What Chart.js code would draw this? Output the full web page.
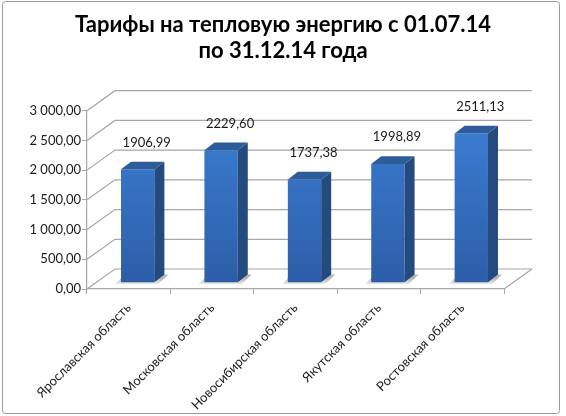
<!DOCTYPE html>
<html>
<head>
<meta charset="utf-8">
<script src="https://cdn.jsdelivr.net/npm/chart.js@4"></script>
<style>
  html, body { margin: 0; padding: 0; background: #fff; }
  #wrap { width: 566px; height: 416px; }
</style>
</head>
<body>
<div id="wrap"><canvas id="grafico" width="566" height="416"></canvas></div>
<script>
// Данные
const regioni = ["Ярославская область", "Московская область", "Новосибирская область", "Якутская область", "Ростовская область"];
const tarifi = [1906.99, 2229.60, 1737.38, 1998.89, 2511.13];
const titolo = ["Тарифы на тепловую энергию с 01.07.14", "по 31.12.14 года"];
const yMin = 0, yMax = 3000, yPasso = 500;

// глубина 3D
const PARETE = {dx: 28, dy: -20};
const SPOSTA = {dx: 9, dy: -6.3};
const PROF = {dx: 10, dy: -7.6};
const GRIGIO = "#a6a6a6";

function formato(v) {
  const [i, d] = v.toFixed(2).split(".");
  return i.replace(/\B(?=(\d{3})+(?!\d))/g, " ") + "," + d;
}

// рамка, заголовок, стены и сетка
const sfondo3d = {
  id: "sfondo3d",
  beforeDraw(chart) {
    const c = chart.ctx;
    c.save();
    c.strokeStyle = "#9a9a9a";
    c.lineWidth = 1;
    c.beginPath();
    c.roundRect(2.5, 1.5, 557, 412, 3);
    c.stroke();
    // заголовок
    c.fillStyle = "#000";
    c.font = "bold 22px Lato";
    c.textAlign = "center";
    c.textBaseline = "alphabetic";
    c.fillText(titolo[0], 283, 32);
    c.fillText(titolo[1], 283, 58);
    c.restore();
  },
  beforeDatasetsDraw(chart) {
    const c = chart.ctx, a = chart.chartArea, y = chart.scales.y;
    c.save();
    c.strokeStyle = GRIGIO;
    c.lineWidth = 1.2;
    y.ticks.forEach(t => {
      const py = y.getPixelForValue(t.value);
      c.beginPath();
      c.moveTo(a.left, py);
      c.lineTo(a.left + PARETE.dx, py + PARETE.dy);
      c.lineTo(a.right + PARETE.dx, py + PARETE.dy);
      c.stroke();
    });
    c.beginPath();
    c.moveTo(a.right, a.bottom);
    c.lineTo(a.right + PARETE.dx, a.bottom + PARETE.dy);
    c.stroke();
    // тени на полу
    chart.getDatasetMeta(0).data.forEach(b => {
      const x0 = b.x - b.width / 2 + SPOSTA.dx;
      const yb = b.base + SPOSTA.dy;
      const g = c.createLinearGradient(0, yb - 4, 0, yb + 4);
      g.addColorStop(0, "rgba(120,120,120,0.55)");
      g.addColorStop(1, "rgba(120,120,120,0)");
      c.fillStyle = g;
      c.beginPath();
      c.moveTo(x0 - 6, yb + 2);
      c.lineTo(x0 + b.width + 4, yb + 2);
      c.lineTo(x0 + b.width + PROF.dx + 4, yb + PROF.dy);
      c.lineTo(x0 - 6 + PROF.dx, yb + PROF.dy);
      c.closePath();
      c.fill();
    });
    c.restore();
    c.save();
    c.translate(SPOSTA.dx, SPOSTA.dy);
  },
  afterDatasetsDraw(chart) {
    const c = chart.ctx;
    const meta = chart.getDatasetMeta(0);
    meta.data.forEach(b => {
      const x0 = b.x - b.width / 2, x1 = b.x + b.width / 2;
      // боковая грань
      c.fillStyle = "#244a80";
      c.beginPath();
      c.moveTo(x1, b.y);
      c.lineTo(x1 + PROF.dx, b.y + PROF.dy);
      c.lineTo(x1 + PROF.dx, b.base + PROF.dy);
      c.lineTo(x1, b.base);
      c.closePath();
      c.fill();
      // верхняя грань
      c.fillStyle = "#2e5c9a";
      c.beginPath();
      c.moveTo(x0, b.y);
      c.lineTo(x0 + PROF.dx, b.y + PROF.dy);
      c.lineTo(x1 + PROF.dx, b.y + PROF.dy);
      c.lineTo(x1, b.y);
      c.closePath();
      c.fill();
    });
    c.restore();
    // подписи значений
    c.save();
    c.font = "13px Lato";
    c.fillStyle = "#1a1a1a";
    c.textAlign = "center";
    c.textBaseline = "middle";
    meta.data.forEach((b, i) => {
      c.fillText(formato(tarifi[i]).replace(/\s/g, ""), b.x + SPOSTA.dx + 9, b.y + SPOSTA.dy + PROF.dy - 19);
    });
    c.restore();
  }
};

const ctx = document.getElementById("grafico").getContext("2d");
new Chart(ctx, {
  type: "bar",
  data: {
    labels: regioni,
    datasets: [{
      data: tarifi,
      clip: false,
      categoryPercentage: 1,
      barPercentage: 0.4,
      backgroundColor: (context) => {
        const {chart} = context;
        const a = chart.chartArea;
        if (!a) return "#3a7bd0";
        const g = chart.ctx.createLinearGradient(0, a.top, 0, a.bottom);
        g.addColorStop(0, "#3d80d6");
        g.addColorStop(1, "#2c5ea8");
        return g;
      }
    }]
  },
  options: {
    responsive: false,
    animation: false,
    layout: { padding: { left: 0, right: 62, top: 110.7, bottom: 0 } },
    plugins: {
      legend: { display: false },
      tooltip: { enabled: false },
      title: { display: false }
    },
    scales: {
      y: {
        min: yMin,
        max: yMax,
        afterFit(s) { s.width = 87; },
        ticks: {
          stepSize: yPasso,
          padding: 1,
          color: "#1a1a1a",
          font: { family: "Lato", size: 13 },
          callback: v => formato(v)
        },
        grid: { drawOnChartArea: false, drawTicks: true, tickLength: 5, color: GRIGIO },
        border: { display: true, color: GRIGIO, width: 1.2 }
      },
      x: {
        afterFit(s) { s.height = 127; },
        ticks: {
          autoSkip: false,
          maxRotation: 45,
          minRotation: 45,
          padding: 6,
          color: "#1a1a1a",
          font: { family: "Lato", size: 13 }
        },
        grid: { offset: true, drawOnChartArea: false, drawTicks: true, tickLength: 5, color: GRIGIO },
        border: { display: true, color: GRIGIO, width: 1.2 }
      }
    }
  },
  plugins: [sfondo3d]
});
</script>
</body>
</html>
